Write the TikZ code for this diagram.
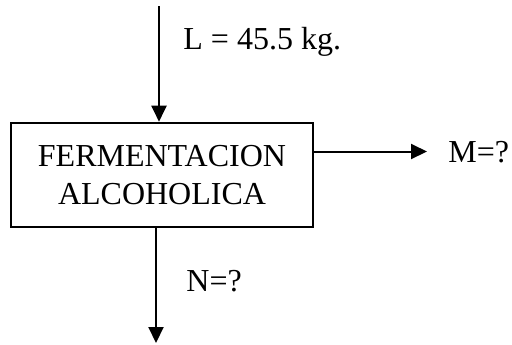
\documentclass[tikz,border=0pt]{standalone}
\usepackage{fontspec}
\setmainfont{Liberation Serif}
\usetikzlibrary{arrows.meta,positioning}

\begin{document}
\begin{tikzpicture}[x=0.5pt, y=-0.5pt, every node/.style={font=\fontsize{16}{19}\selectfont},
    flow/.style={line width=1pt, -{Triangle[length=8pt, width=7.5pt]}},
    lbl/.style={anchor=base west, inner sep=0pt}]
    \useasboundingbox (0,0) rectangle (512,344);
    \node[draw, line width=1pt, minimum width=151pt, minimum height=52pt, align=center] (f) at (162,174.7) {FERMENTACION\\ALCOHOLICA\hspace*{0pt}};

    \coordinate (in) at (159,6);
    \coordinate (out) at (156,343);
    \coordinate (side) at (427,151.5);

    \node[lbl] (l) at (183,49) {L = 45.5 kg.};
    \node[lbl] (m) at (448,162) {M=?};
    \node[lbl] (n) at (186,291) {N=?};

    \draw[flow] (in) -- (in |- f.north);
    \draw[flow] (f.east |- side) -- (side);
    \draw[flow] (out |- f.south) -- (out);
  \end{tikzpicture}
\end{document}
